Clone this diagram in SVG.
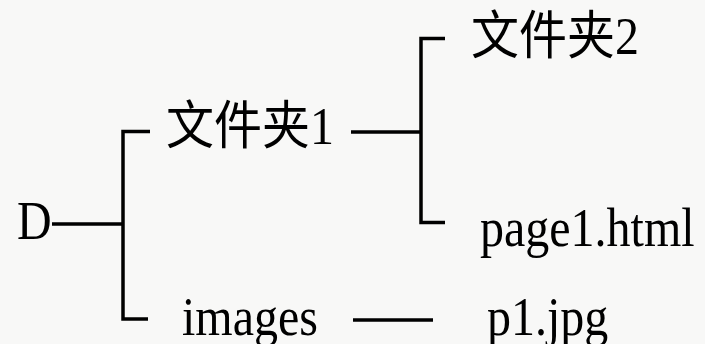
<svg xmlns="http://www.w3.org/2000/svg" width="705" height="344" viewBox="0 0 705 344">
  <style>
    .t { font-family: "Liberation Serif", "Noto Sans CJK SC", serif; font-size: 48px; fill: #000; }
    .c { fill: none; stroke: #000; stroke-width: 3.5; stroke-linecap: butt; stroke-linejoin: miter; }
  </style>
  <rect x="0" y="0" width="705" height="344" fill="#f8f8f7"/>
  <g id="connectors">
    <path class="c" d="M52 224 H123"/>
    <path class="c" d="M150 131.5 H123 V319 H148"/>
    <path class="c" d="M351 132 H421"/>
    <path class="c" d="M445 38.5 H421 V222.5 H445"/>
    <path class="c" d="M353 320 H433"/>
  </g>
  <g id="node-D"><text class="t" transform="translate(17 239) scale(1 1.15)">D</text></g>
  <g id="node-folder1"><text class="t" transform="translate(166 144) scale(1 1.08)">文件夹1</text></g>
  <g id="node-images"><text class="t" transform="translate(182 335) scale(1 1.15)">images</text></g>
  <g id="node-folder2"><text class="t" transform="translate(471 54) scale(1 1.08)">文件夹2</text></g>
  <g id="node-page1"><text class="t" transform="translate(480 246) scale(1 1.15)">page1.html</text></g>
  <g id="node-p1"><text class="t" transform="translate(487 335) scale(1 1.15)">p1.jpg</text></g>
</svg>
